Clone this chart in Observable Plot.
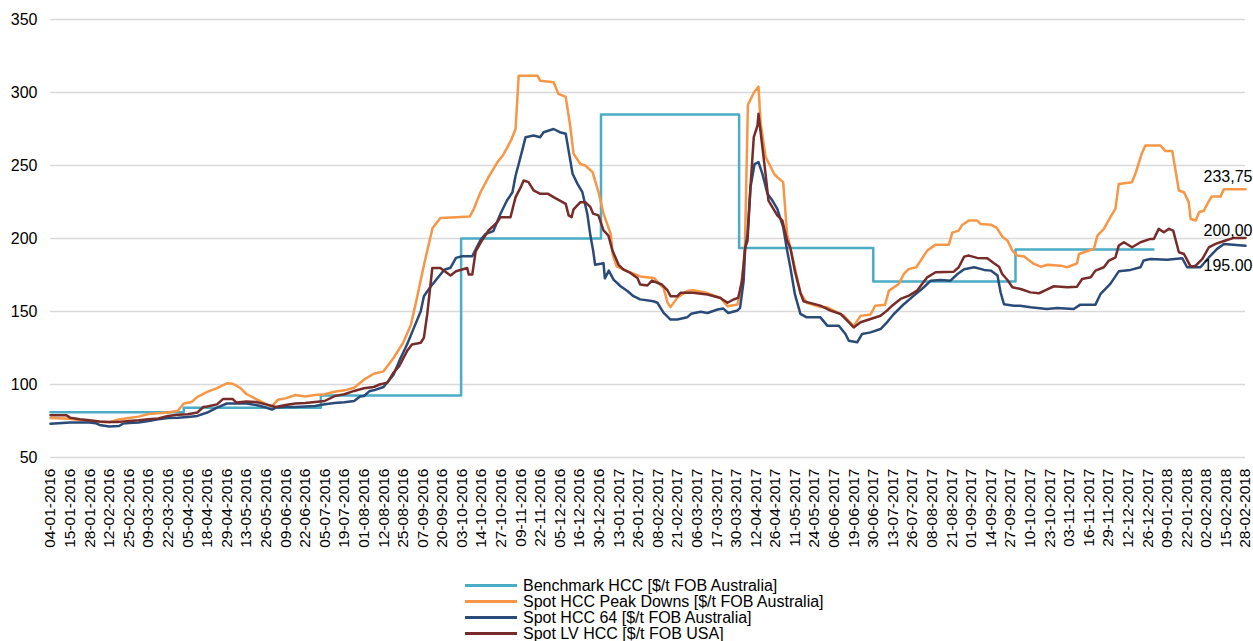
<!DOCTYPE html>
<html>
<head>
<meta charset="utf-8">
<script src="https://cdn.jsdelivr.net/npm/d3@7"></script>
<script src="https://cdn.jsdelivr.net/npm/@observablehq/plot@0.6"></script>
<style>
  html, body { margin: 0; padding: 0; background: #fff; }
  body { width: 1253px; height: 641px; position: relative; overflow: hidden;
         font-family: Arial, "Liberation Sans", sans-serif; }
  #legend { position: absolute; left: 465px; top: 578px; font-size: 16px; color: #000; }
  #legend .row { height: 16px; line-height: 16px; white-space: nowrap; }
  #legend .sw { display: inline-block; width: 52px; height: 3px; vertical-align: middle; margin-right: 6px; position: relative; top: -1px; }
</style>
</head>
<body>
<div id="chart"></div>
<div id="legend"></div>
<script>
// Category tick labels (one every 10 observations)
const tickLabels = ["04-01-2016","15-01-2016","28-01-2016","12-02-2016","25-02-2016","09-03-2016","22-03-2016","05-04-2016","18-04-2016","29-04-2016","13-05-2016","26-05-2016","09-06-2016","22-06-2016","05-07-2016","19-07-2016","01-08-2016","12-08-2016","25-08-2016","07-09-2016","20-09-2016","03-10-2016","14-10-2016","27-10-2016","09-11-2016","22-11-2016","05-12-2016","16-12-2016","30-12-2016","13-01-2017","26-01-2017","08-02-2017","21-02-2017","06-03-2017","17-03-2017","30-03-2017","12-04-2017","26-04-2017","11-05-2017","24-05-2017","06-06-2017","19-06-2017","30-06-2017","13-07-2017","26-07-2017","08-08-2017","21-08-2017","01-09-2017","14-09-2017","27-09-2017","10-10-2017","23-10-2017","03-11-2017","16-11-2017","29-11-2017","12-12-2017","26-12-2017","09-01-2018","22-01-2018","02-02-2018","15-02-2018","28-02-2018"];
const yTicks = [50, 100, 150, 200, 250, 300, 350];

const seriesNames = ["Benchmark HCC [$/t FOB Australia]", "Spot HCC Peak Downs [$/t FOB Australia]", "Spot HCC 64 [$/t FOB Australia]", "Spot LV HCC [$/t FOB USA]"];
const seriesColors = ["#4bacc6", "#f79646", "#2a4a78", "#772c2a"];

// [observation index, value]
const benchmark = [[0,81],[68,84],[138,92.5],[209.6,200],[281,285],[351.5,193.5],[420,170.5],[492.6,192.5],[563,192.5]];

const peakDowns = [[0,77],[10,76.5],[20,74.6],[30,74.2],[35,76],[40,77],[45,78],[50,79.8],[60,80.8],[65,82],[68,87],[72,88],[75,91.5],[80,95],[85,97.5],[90,100.8],[93,100.5],[97,97.5],[100,93.5],[105,90],[110,86.5],[113,85],[116,89.5],[120,90.5],[125,92.8],[130,91.8],[135,92.8],[140,93.3],[145,95],[150,96],[155,97.8],[160,103.3],[165,107.4],[170,109],[175,118],[180,128.6],[184,141],[187,159],[191,184],[195,207],[199,214],[207,214.5],[214,215],[216,220],[219.5,231.7],[223.6,242],[228,252],[231,257],[235,267],[237.4,275],[239,311.5],[248.6,311.5],[250,308],[256.8,307],[259.3,299],[263,297],[265.4,276],[267,258],[270.5,251],[273,250],[276.7,245.5],[279.7,232],[282.3,217],[286,203],[287,189],[289,181],[294.5,177.6],[301,174],[308,173],[313,166],[315,156],[316.5,153],[320,159.5],[325,164],[328,164.6],[335,162.8],[342,159.3],[345.6,153.6],[350.7,154.8],[352,162.7],[353.8,182],[354.5,196],[356,291.5],[359,299.8],[361.4,304],[362.5,279],[365,256],[369.5,244],[371,242],[374,238.6],[376,203],[379.3,184],[382.8,162.8],[386,156],[393,153],[396.5,152.9],[401.6,149.4],[405,147],[409,141.4],[410,140],[413.5,147],[418.6,148],[421,154],[426,154.7],[428,164.3],[433,168.9],[435.6,175.7],[438,179],[442,180.3],[447.5,191.7],[451.8,195.8],[458.6,195.8],[460.3,204],[463.6,205.4],[465.4,209.3],[468.8,212.3],[473,212.3],[474.8,210],[480,209.5],[483,207.3],[486,201],[488.5,198.6],[491,191.7],[493.5,188.3],[497,187.6],[502,182.6],[505.5,180.7],[509,182],[515.6,181.4],[519,180.3],[524,183],[525,189.4],[529,191.3],[532.6,192.9],[534.4,202],[537.7,206.6],[541,214.6],[543.6,220.3],[545.3,237.4],[552,238.6],[553.8,244.3],[557,258],[558.9,263.7],[566.6,263.7],[569,260],[572.6,260],[576,232.9],[578.6,231.7],[581,224.9],[582,213.4],[584.6,212.3],[586.3,218],[588.7,219],[591,224.9],[592.7,228.7],[597.2,228.7],[599,233.8],[610,233.75]];

const hcc64 = [[0,73.2],[10,74],[20,74],[23,73.5],[25,72.3],[30,71.2],[35,71.6],[37,73.2],[40,73.7],[45,74],[50,75],[55,76.2],[60,77.1],[65,77.3],[70,77.8],[75,78.5],[80,80.8],[85,84.2],[90,87],[100,87],[105,86],[110,84.2],[113,82.8],[115,84.2],[120,84.6],[125,84.6],[130,85],[135,85.3],[140,86.4],[145,87.4],[150,87.8],[155,88.7],[158,91.7],[160,92.1],[163,95.6],[165,96],[170,98.3],[175,106.5],[178,116],[180,121.8],[182,127.4],[185.5,138.8],[189,150.2],[190.6,160.5],[194,167],[197.6,173],[201,178.6],[204.2,180],[207,186.7],[210,187.8],[215.3,187.8],[217,192.5],[219.5,199],[222,203],[226,205],[229.7,217],[233,226],[235.8,231.7],[237.4,243],[239,251],[241,261.4],[242.5,269.4],[246.6,270.5],[250,269.4],[251.7,272.8],[256.8,275],[260,272.8],[263,271.7],[264.5,260],[266.5,244.3],[269,237.4],[271.5,231.7],[274,217],[275.6,202],[277,191.7],[278,182],[282.3,183],[283,172.7],[285,178],[287.4,171.8],[291,167.3],[294.5,164],[297.6,160.5],[301,158.3],[307.8,157],[309.8,156],[313,149],[316.5,144.5],[320,144.5],[325,146],[327,148.4],[331.8,149.8],[335.4,149],[340.5,151.4],[343.5,152],[346,149],[350.7,150.7],[352,152.5],[353.8,170.7],[354.6,193],[355.8,203],[357.3,235],[359.4,251],[361.4,252.3],[363.4,244.3],[366,230.6],[368.5,226],[371,220.3],[374,207.8],[376,192],[377.7,180],[380,161.7],[382.8,148.4],[386,146],[393,146],[396.5,140.3],[402.4,140.3],[405.8,134.6],[407.5,130],[411.8,128.9],[414.3,134.6],[418.6,135.7],[423.7,138],[427,142.6],[430.5,148.3],[435.6,155],[440.7,160.9],[445.8,166.6],[449.2,171],[454.4,171.6],[459.4,171.1],[463,175.7],[466.4,179],[471.5,180.3],[476.6,178.5],[480,178],[483.4,174.6],[485,163],[486.7,155],[491.8,154],[495,154],[500.2,152.9],[508.7,151.7],[513.8,152.4],[522.3,151.7],[525.7,154.7],[533.4,154.7],[536,162],[541,168.9],[545.3,177.5],[551.3,178.5],[556.4,180.3],[558,184.9],[561.5,186],[570,185.5],[577.7,186.5],[580.2,180.3],[587,180.3],[591.3,187],[595.5,192.9],[599,196.3],[610,195]];

const lvHcc = [[0,78.9],[8,79],[10,77.3],[15,76.2],[20,75.5],[25,74.6],[30,74.4],[35,74.4],[40,75],[45,75.5],[50,76.2],[55,76.7],[60,78.5],[65,79.2],[70,79.6],[75,80.8],[78,84.6],[80,84.9],[85,86.4],[88,90],[93,90],[95,87.6],[100,88.3],[105,88],[110,86.4],[115,84.6],[120,86],[125,87],[130,87.4],[135,88],[140,88.7],[145,92.1],[150,93.3],[155,95.6],[160,97.4],[165,98.3],[168,100],[172,101.3],[175,108],[178,112.5],[182,122.9],[184.5,127.4],[189,128.6],[190.6,132],[192.3,148],[194.9,179.8],[199,179.8],[204.2,174.6],[207,177.6],[212.7,179.8],[213.5,175.3],[215.3,175.3],[217,191],[220.4,199],[223.6,205.5],[228,211],[229.7,214.6],[234.8,214.6],[237.4,228.3],[240,235],[241.5,239.7],[244,238.6],[246.6,232.9],[250,230.6],[254,230.6],[256.8,228.3],[260,226],[263,223.7],[264.5,215.8],[266,214.6],[267,220],[270.5,224.9],[273,224.9],[275.6,221.5],[277,217],[279.7,215.8],[282.3,205.5],[284.8,202],[286.8,192],[290,182],[292.5,178.7],[296,176.4],[299.6,173],[301,168.5],[304.7,167.8],[307,171.2],[312,168.5],[315,164.4],[316.5,160.5],[320,160.5],[321.6,162.8],[328,162.8],[335.4,161.6],[342,159.3],[345.6,156],[348.6,158.2],[351,159.3],[353,170.7],[354.6,193.5],[355.8,198.6],[357.3,235],[359,269.4],[360.9,277.4],[361.4,285.4],[363.4,262.6],[365,244.3],[366.5,226],[369,220.3],[371,215.8],[373.6,212.3],[376,198.6],[377.7,193.5],[380,177.6],[382.8,162.8],[384.4,157],[393,154],[398.2,150.6],[403.3,148.3],[406.7,143.7],[410,139.1],[413.5,142.6],[418.6,144.9],[423.7,147.1],[427,150.6],[429.6,154],[433.9,158.6],[438.2,160.9],[442.4,164.3],[447.5,173.4],[451.8,176.9],[461.1,177.3],[463.6,180.3],[466.4,187.6],[468.8,188.3],[473,186.7],[478.2,186.5],[481.6,183],[484.2,180.7],[485.8,175.7],[488.5,171.6],[491,166.6],[495.2,165.4],[500.2,163.1],[504.6,162.5],[508,164.7],[512.2,167.3],[519,166.6],[524,167],[526.6,172.3],[531,173.4],[533.4,178],[537.7,180.3],[540.3,184.9],[543.6,187.1],[545.3,195.1],[547.9,197.4],[552.1,194],[556.4,197.4],[561.5,199.7],[563.2,199.7],[565.7,206.6],[568.3,204.3],[570.9,206.6],[573.1,205.4],[576,190.6],[578.6,189.4],[582,180.7],[584.6,181.4],[588,186],[591.3,194],[594.7,196.3],[599.8,198.6],[604,200.4],[610,200.4]];

const endLabels = [
  {text: "233,75", value: 233.75, dy: -12},
  {text: "200,00", value: 200.4, dy: -7},
  {text: "195.00", value: 195, dy: 20}
];

const lastIndex = (tickLabels.length - 1) * 10;
const tickIdx = tickLabels.map((d, i) => i * 10);

const font = 'Arial, "Liberation Sans", sans-serif';

const chart = Plot.plot({
  width: 1253,
  height: 570,
  marginLeft: 50,
  marginRight: 8,
  marginTop: 19,
  marginBottom: 113,
  style: {fontFamily: font, fontSize: "16px", color: "#000", background: "#fff", overflow: "visible"},
  x: {domain: [0, lastIndex]},
  y: {domain: [50, 350]},
  marks: [
    Plot.gridY(yTicks, {stroke: "#d9d9d9", strokeOpacity: 1, strokeWidth: 1.6}),
    Plot.axisY(yTicks, {tickSize: 0, tickPadding: 13, fontSize: 16, label: null}),
    Plot.axisX(tickIdx, {tickSize: 0, tickPadding: 11, tickRotate: -90, fontSize: 15.5,
      tickFormat: i => tickLabels[Math.round(i / 10)], label: null}),
    Plot.line(benchmark, {x: d => d[0], y: d => d[1], curve: "step-after", stroke: seriesColors[0], strokeWidth: 2.5}),
    Plot.line(peakDowns, {x: d => d[0], y: d => d[1], stroke: seriesColors[1], strokeWidth: 2.5}),
    Plot.line(hcc64, {x: d => d[0], y: d => d[1], stroke: seriesColors[2], strokeWidth: 2.5}),
    Plot.line(lvHcc, {x: d => d[0], y: d => d[1], stroke: seriesColors[3], strokeWidth: 2.5}),
    Plot.text(endLabels, {x: () => lastIndex, y: "value", text: "text", dx: 7,
      textAnchor: "end", fontSize: 16, fill: "#000"})
  ]
});
document.getElementById("chart").appendChild(chart);

// per-label vertical offsets
const texts = chart.querySelectorAll('g[aria-label="text"] text');
texts.forEach((t, i) => {
  const tr = t.getAttribute("transform");
  t.setAttribute("transform", (tr || "") + ` translate(0,${endLabels[i].dy})`);
});

const legend = document.getElementById("legend");
seriesNames.forEach((name, i) => {
  const row = document.createElement("div");
  row.className = "row";
  const sw = document.createElement("span");
  sw.className = "sw";
  sw.style.background = seriesColors[i];
  row.appendChild(sw);
  row.appendChild(document.createTextNode(name));
  legend.appendChild(row);
});
</script>
</body>
</html>
